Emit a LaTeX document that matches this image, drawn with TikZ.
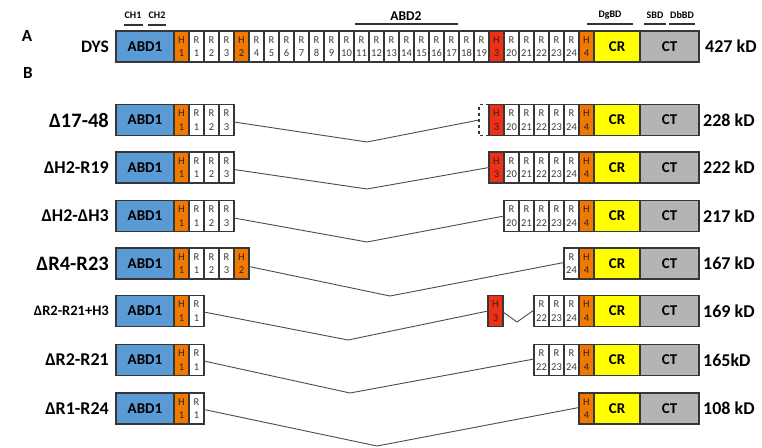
\documentclass[tikz,border=0pt]{standalone}
\usepackage{fontspec}
\setmainfont{Carlito}
\definecolor{abdblue}{RGB}{91,155,213}
\definecolor{horange}{RGB}{242,121,0}
\definecolor{hred}{RGB}{238,48,20}
\definecolor{cryel}{RGB}{255,255,0}
\definecolor{ctgray}{RGB}{180,180,180}
\definecolor{bordc}{RGB}{55,55,55}
\definecolor{rtext}{RGB}{60,60,60}
\definecolor{linec}{RGB}{75,75,75}
\newcommand\leftpart[3]{% prefix, y, number of R
  \node[abd] (#1abd) at (116,#2) {ABD1};
  \node[hbox] (#1h1) at (174,#2) {H\\1};
  \foreach \i in {1,...,#3} \node[rbox] (#1r\i) at ({189+15*(\i-1)},#2) {R\\\i};
}
\newcommand\rightend[2]{% prefix, y
  \node[hbox] (#1h4) at (579,#2) {H\\4};
  \node[crbox] (#1cr) at (594,#2) {CR};
  \node[ctbox] (#1ct) at (640,#2) {CT};
}
\begin{document}
\begin{tikzpicture}[x=1pt,y=-1pt,
  seg/.style={draw=bordc, line width=1.1pt, minimum height=31pt, inner sep=0pt, outer sep=0pt, anchor=west},
  rbox/.style={seg, fill=white, minimum width=15pt, font=\fontsize{10.5}{13.5}\selectfont, text=rtext, align=center},
  hbox/.style={rbox, fill=horange, text=black!85},
  h3box/.style={rbox, fill=hred, text=black!85},
  abd/.style={seg, fill=abdblue, minimum width=58pt, font=\bfseries\fontsize{15}{15}\selectfont},
  crbox/.style={seg, fill=cryel, minimum width=46pt, font=\bfseries\fontsize{15}{15}\selectfont},
  ctbox/.style={seg, fill=ctgray, minimum width=59pt, font=\bfseries\fontsize{15}{15}\selectfont},
  lbl/.style={anchor=east, inner sep=0pt, font=\bfseries\fontsize{18}{18}\selectfont},
  biglbl/.style={lbl, font=\bfseries\fontsize{20.5}{20.5}\selectfont},
  kd/.style={anchor=west, inner sep=0pt, font=\bfseries\fontsize{18}{18}\selectfont},
  small/.style={inner sep=0pt, font=\bfseries\fontsize{10}{10}\selectfont},
  bar/.style={draw=black!80, line width=1.8pt},
  link/.style={draw=linec, line width=0.9pt}]
\useasboundingbox (0,0) rectangle (762,447);

% panel letters
\node[inner sep=0pt, font=\bfseries\fontsize{17}{17}\selectfont] (A) at (27,36) {A};
\node[inner sep=0pt, font=\bfseries\fontsize{17}{17}\selectfont] (B) at (28,73) {B};

% domain annotations
\node[small] (ch1) at (133,15) {CH1};
\node[small] (ch2) at (157,15) {CH2};
\node[inner sep=0pt, font=\bfseries\fontsize{13.5}{13.5}\selectfont] (abd2) at (406,16) {ABD2};
\node[small] (dgbd) at (610,15) {DgBD};
\node[small] (sbd) at (655,15) {SBD};
\node[small] (dbbd) at (682,15) {DbBD};
\draw[bar] (124,25) -- (143,25);
\draw[bar] (148,25) -- (166,25);
\draw[bar] (355,24) -- (458,24);
\draw[bar, line width=1.4pt] (587,24) -- (633,24);
\draw[bar, line width=1.4pt] (644,24) -- (666,24);
\draw[bar, line width=1.4pt] (669,24) -- (695,24);

% full dystrophin
\node[lbl, font=\bfseries\fontsize{17.5}{17.5}\selectfont] (dys) at (109,46.5) {DYS};
\leftpart{t}{46.5}{3}
\node[hbox] (th2) at (234,46.5) {H\\2};
\foreach \i in {4,...,19} \node[rbox] (tr\i) at ({249+15*(\i-4)},46.5) {R\\\i};
\node[h3box] (th3) at (489,46.5) {H\\3};
\foreach \i in {20,...,24} \node[rbox] (tr\i) at ({504+15*(\i-20)},46.5) {R\\\i};
\rightend{t}{46.5}
\node[kd] (tkd) at (705,46.5) {427 kD};

% row 1: Delta17-48
\node[biglbl] (l1) at (109,120) {Δ17-48};
\leftpart{a}{120}{3}
\node[minimum width=10pt, minimum height=31pt, inner sep=0pt, outer sep=0pt, anchor=west] (adash) at (479,120) {};
\draw[draw=bordc, line width=1.1pt, dashed] (adash.north east) -- (adash.north west) -- (adash.south west) -- (adash.south east);
\node[h3box] (ah3) at (489,120) {H\\3};
\foreach \i in {20,...,24} \node[rbox] (ar\i) at ({504+15*(\i-20)},120) {R\\\i};
\rightend{a}{120}
\node[kd] (akd) at (703,120) {228 kD};
\coordinate (av) at (367,142);
\draw[link] ([yshift=-2pt]ar3.east) -- (av) -- (adash.west);

% row 2: DeltaH2-R19
\node[lbl] (l2) at (109,167.5) {ΔH2-R19};
\leftpart{b}{167.5}{3}
\node[h3box] (bh3) at (489,167.5) {H\\3};
\foreach \i in {20,...,24} \node[rbox] (br\i) at ({504+15*(\i-20)},167.5) {R\\\i};
\rightend{b}{167.5}
\node[kd] (bkd) at (703,167.5) {222 kD};
\coordinate (bv) at (367,189);
\draw[link] ([yshift=-2pt]br3.east) -- (bv) -- (bh3.west);

% row 3: DeltaH2-DeltaH3
\node[lbl] (l3) at (109,216) {ΔH2-ΔH3};
\leftpart{c}{216}{3}
\foreach \i in {20,...,24} \node[rbox] (cr\i) at ({504+15*(\i-20)},216) {R\\\i};
\rightend{c}{216}
\node[kd] (ckd) at (703,216) {217 kD};
\coordinate (cv) at (367,242);
\draw[link] ([yshift=-2pt]cr3.east) -- (cv) -- (cr20.west);

% row 4: DeltaR4-R23
\node[biglbl] (l4) at (109,263.5) {ΔR4-R23};
\leftpart{d}{263.5}{3}
\node[hbox] (dh2) at (234,263.5) {H\\2};
\node[rbox] (dr24) at (564,263.5) {R\\24};
\rightend{d}{263.5}
\node[kd] (dkd) at (703,263.5) {167 kD};
\coordinate (dv) at (390,296);
\draw[link] ([yshift=-3pt]dh2.east) -- (dv) -- ([yshift=1pt]dr24.west);

% row 5: DeltaR2-R21+H3
\node[lbl, font=\bfseries\fontsize{14.5}{14.5}\selectfont] (l5) at (109,311) {ΔR2-R21+H3};
\leftpart{e}{311}{1}
\node[h3box] (eh3) at (488,311) {H\\3};
\foreach \i in {22,23,24} \node[rbox] (er\i) at ({534+15*(\i-22)},311) {R\\\i};
\rightend{e}{311}
\node[kd] (ekd) at (703,311) {169 kD};
\coordinate (ev) at (348,340);
\coordinate (ev2) at (517,322);
\draw[link] ([yshift=-1pt]er1.east) -- (ev) -- (eh3.west);
\draw[link] ([yshift=-1pt]eh3.east) -- (ev2) -- ([yshift=1pt]er22.west);

% row 6: DeltaR2-R21
\node[lbl] (l6) at (109,360) {ΔR2-R21};
\leftpart{f}{360}{1}
\foreach \i in {22,23,24} \node[rbox] (fr\i) at ({534+15*(\i-22)},360) {R\\\i};
\rightend{f}{360}
\node[kd] (fkd) at (703,360) {165kD};
\coordinate (fv) at (350,393);
\draw[link] ([yshift=-1pt]fr1.east) -- (fv) -- ([yshift=1pt]fr22.west);

% row 7: DeltaR1-R24
\node[lbl] (l7) at (109,408.5) {ΔR1-R24};
\leftpart{g}{408.5}{1}
\rightend{g}{408.5}
\node[kd] (gkd) at (703,408.5) {108 kD};
\coordinate (gv) at (377,446);
\draw[link] ([yshift=-1pt]gr1.east) -- (gv) -- ([yshift=1pt]gh4.west);
\end{tikzpicture}
\end{document}
